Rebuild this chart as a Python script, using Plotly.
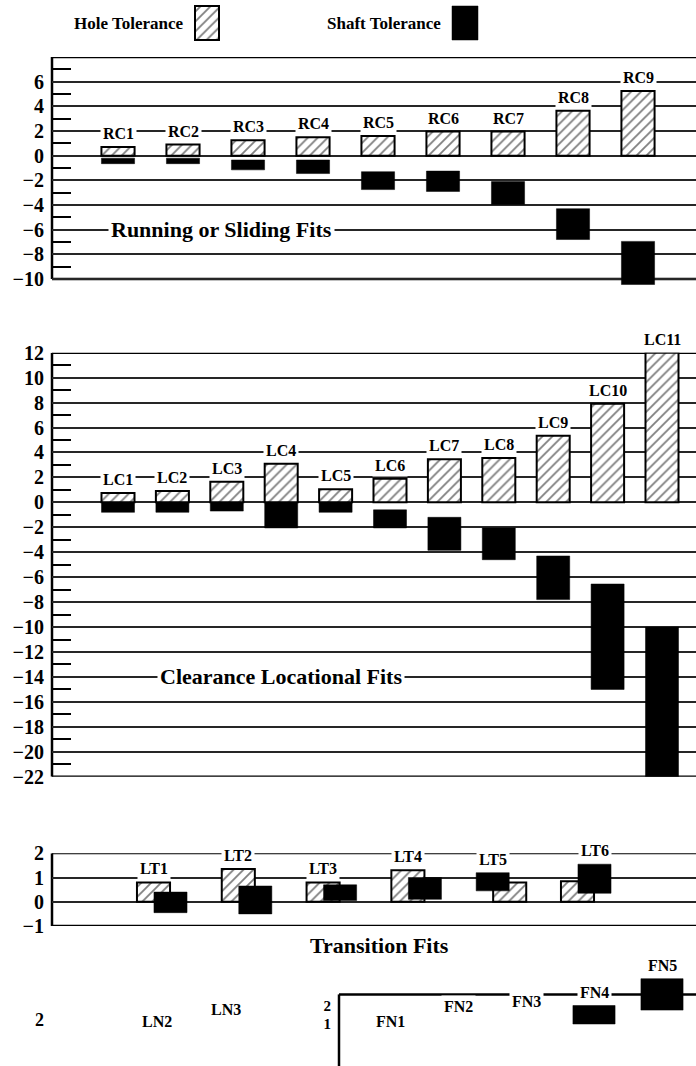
import plotly.graph_objects as go

W, H = 696, 1066

# ---- Running or sliding fits (RC) ----
rc_fits = ["RC1", "RC2", "RC3", "RC4", "RC5", "RC6", "RC7", "RC8", "RC9"]
rc_hole = [0.7, 0.9, 1.25, 1.5, 1.6, 1.95, 1.95, 3.65, 5.25]
rc_shaft_hi = [-0.2, -0.2, -0.35, -0.35, -1.3, -1.25, -2.1, -4.3, -6.95]
rc_shaft_lo = [-0.65, -0.65, -1.15, -1.45, -2.75, -2.9, -3.95, -6.8, -10.45]

# ---- Clearance locational fits (LC) ----
lc_fits = ["LC1", "LC2", "LC3", "LC4", "LC5", "LC6", "LC7", "LC8", "LC9", "LC10", "LC11"]
lc_hole = [0.75, 0.9, 1.65, 3.1, 1.05, 1.9, 3.45, 3.55, 5.35, 7.9, 12.0]
lc_shaft_hi = [0.0, 0.0, 0.0, 0.0, 0.0, -0.6, -1.2, -2.05, -4.3, -6.55, -10.0]
lc_shaft_lo = [-0.8, -0.8, -0.7, -2.05, -0.8, -2.05, -3.85, -4.6, -7.8, -15.0, -22.0]

# ---- Transition fits (LT) ----
lt_fits = ["LT1", "LT2", "LT3", "LT4", "LT5", "LT6"]
lt_hole = [0.8, 1.35, 0.8, 1.3, 0.8, 0.85]
lt_shaft_hi = [0.4, 0.65, 0.7, 1.0, 1.2, 1.55]
lt_shaft_lo = [-0.45, -0.5, 0.05, 0.1, 0.45, 0.35]

# ---- Force / shrink fits (FN), only the top of this panel is shown ----
fn_fits = ["FN1", "FN2", "FN3", "FN4", "FN5"]
fn_shaft_hi = [None, None, None, 2.0, 3.45]
fn_shaft_lo = [None, None, None, 1.0, 1.75]

# Tick labels
rc_ticks = [-10, -8, -6, -4, -2, 0, 2, 4, 6]
lc_ticks = [-22, -20, -18, -16, -14, -12, -10, -8, -6, -4, -2, 0, 2, 4, 6, 8, 10, 12]
lt_ticks = [-1, 0, 1, 2]
fn_ticks = [1, 2]

# ---- styling ----
SERIF = "Liberation Serif"
INK = "black"
GRID = "#262626"
LABEL_FONT = dict(family=SERIF, size=16, color=INK, weight="bold")
TITLE_FONT = dict(family=SERIF, size=22, color=INK, weight="bold")
TICK_FONT = dict(family=SERIF, size=20, color=INK, weight="bold")
CAPTION_FONT = dict(family=SERIF, size=17, color=INK, weight="bold")

# side of each LT pair on which the hole bar sits (-1 left, +1 right)
lt_hole_side = [-1, -1, -1, -1, 1, -1]


def ydom(top_px, bot_px):
    return [1 - bot_px / H, 1 - top_px / H]


def xdom(left_px, right_px):
    return [left_px / W, right_px / W]


HATCH = dict(
    color="white",
    line=dict(color=INK, width=2),
    pattern=dict(shape="/", fgcolor=INK, bgcolor="white", size=7, solidity=0.26),
)
SOLID = dict(color=INK, line=dict(color=INK, width=0.5))

fig = go.Figure()


def hole_bars(fits, hole, xa, ya, width, offset):
    fig.add_trace(go.Bar(
        x=fits, y=hole, base=0, width=width, offset=offset,
        marker=HATCH, xaxis=xa, yaxis=ya, showlegend=False, hoverinfo="skip",
    ))


def shaft_bars(fits, hi, lo, xa, ya, width, offset):
    span = [None if h is None else l - h for h, l in zip(hi, lo)]
    fig.add_trace(go.Bar(
        x=fits, y=span, base=hi, width=width, offset=offset,
        marker=SOLID, xaxis=xa, yaxis=ya, showlegend=False, hoverinfo="skip",
    ))


def fit_labels(fits, tops, xa, ya, xshifts=None):
    for i, (name, top) in enumerate(zip(fits, tops)):
        fig.add_annotation(
            x=name, y=top, xref=xa, yref=ya, text=name, showarrow=False,
            xanchor="center", yanchor="bottom", yshift=2,
            xshift=(xshifts[i] if xshifts else 0),
            bgcolor="white", borderpad=2, font=LABEL_FONT,
        )


def text_at(text, cx_px, cy_px, font, xanchor="center"):
    fig.add_annotation(x=cx_px / W, xref="paper", y=1 - cy_px / H, yref="paper",
                       xanchor=xanchor, yanchor="middle", text=text,
                       showarrow=False, font=font)


# RC panel
w_rc = 0.51
hole_bars(rc_fits, rc_hole, "x", "y", w_rc, -w_rc / 2)
shaft_bars(rc_fits, rc_shaft_hi, rc_shaft_lo, "x", "y", w_rc, -w_rc / 2)
fit_labels(rc_fits, [max(h, s) for h, s in zip(rc_hole, rc_shaft_hi)], "x", "y")

# LC panel
w_lc = 0.607
hole_bars(lc_fits, lc_hole, "x2", "y2", w_lc, -w_lc / 2)
shaft_bars(lc_fits, lc_shaft_hi, lc_shaft_lo, "x2", "y2", w_lc, -w_lc / 2)
fit_labels(lc_fits, [max(h, s) for h, s in zip(lc_hole, lc_shaft_hi)], "x2", "y2")

# LT panel: hole and shaft bars side by side, partly overlapping
w_lt = 0.39
lt_step_px = 84.8
half_px = 8.5
d = half_px / lt_step_px
lt_hole_off = [s * d - w_lt / 2 for s in lt_hole_side]
lt_shaft_off = [-s * d - w_lt / 2 for s in lt_hole_side]
hole_bars(lt_fits, lt_hole, "x3", "y3", w_lt, lt_hole_off)
shaft_bars(lt_fits, lt_shaft_hi, lt_shaft_lo, "x3", "y3", w_lt, lt_shaft_off)
lt_tops, lt_xs = [], []
for h, s, side in zip(lt_hole, lt_shaft_hi, lt_hole_side):
    lt_tops.append(max(h, s))
    lt_xs.append(side * half_px if h >= s else -side * half_px)
fit_labels(lt_fits, lt_tops, "x3", "y3", lt_xs)

# FN panel
w_fn = 0.62
shaft_bars(fn_fits, fn_shaft_hi, fn_shaft_lo, "x4", "y4", w_fn, -w_fn / 2)
fn_label_mid = [1.16, 1.97, 2.24]
for name, ymid in zip(fn_fits[:3], fn_label_mid):
    fig.add_annotation(x=name, y=ymid, xref="x4", yref="y4", text=name,
                       showarrow=False, xanchor="center", yanchor="middle",
                       bgcolor="white", borderpad=2, font=LABEL_FONT)
fit_labels(fn_fits[3:], [h for h in fn_shaft_hi[3:]], "x4", "y4")

# legend swatches
fig.add_trace(go.Bar(x=[0], y=[1], base=0, width=1, marker=HATCH,
                     xaxis="x5", yaxis="y5", showlegend=False, hoverinfo="skip"))
fig.add_trace(go.Bar(x=[0], y=[1], base=0, width=1, marker=SOLID,
                     xaxis="x6", yaxis="y6", showlegend=False, hoverinfo="skip"))


def y_axis(domain, rng, tickvals, anchor, minor=None, grid=True, font=TICK_FONT):
    ax = dict(
        domain=domain, range=rng, anchor=anchor, tickvals=tickvals,
        ticks="", showgrid=grid, gridcolor=GRID, gridwidth=1.6,
        zeroline=False, showline=False, tickfont=font,
        ticklabelstandoff=7, fixedrange=True, automargin=False,
    )
    if minor:
        ax["minor"] = dict(tickvals=minor, ticks="inside", ticklen=19,
                           tickwidth=1.5, tickcolor=INK, showgrid=False)
    return ax


def x_axis(domain, rng, cats, anchor):
    return dict(domain=domain, range=rng, anchor=anchor, type="category",
                categoryorder="array", categoryarray=cats, visible=False,
                fixedrange=True, automargin=False)


def swatch_axes(domain, rng, anchor):
    return dict(domain=domain, range=rng, anchor=anchor, visible=False,
                fixedrange=True, automargin=False)


# pixel layout of each panel
rc_scale = (279 - 57) / 18.0
rc_bottom_px = 57 + 18.5 * rc_scale
fn_scale = 18.5

fig.update_layout(
    width=W, height=H, margin=dict(l=0, r=0, t=0, b=0, autoexpand=False),
    paper_bgcolor="white", plot_bgcolor="white", barmode="overlay",
    xaxis=x_axis(xdom(52, W), [(52 - 118) / 65, (W - 118) / 65], rc_fits, "y"),
    yaxis=y_axis(ydom(57, rc_bottom_px), [-10.5, 8], rc_ticks, "x",
                 minor=list(range(-9, 8, 2))),
    xaxis2=x_axis(xdom(52, W), [(52 - 118) / 54.4, (W - 118) / 54.4], lc_fits, "y2"),
    yaxis2=y_axis(ydom(352.7, 776.7), [-22, 12], lc_ticks, "x2",
                  minor=list(range(-21, 12, 2))),
    xaxis3=x_axis(xdom(52, W), [(52 - 162) / lt_step_px, (W - 162) / lt_step_px],
                  lt_fits, "y3"),
    yaxis3=y_axis(ydom(853.3, 926), [-1, 2], lt_ticks, "x3"),
    xaxis4=x_axis(xdom(339, W), [(339 - 390) / 68, (W - 390) / 68], fn_fits, "y4"),
    yaxis4=y_axis(ydom(970, H), [2 - 60.5 / fn_scale, 2 + 35.5 / fn_scale],
                  fn_ticks, "x4", grid=False, font=dict(TICK_FONT, size=15)),
    xaxis5=swatch_axes(xdom(193, 221), [-0.5833, 0.5833], "y5"),
    yaxis5=swatch_axes(ydom(4, 42), [-0.0588, 1.0588], "x5"),
    xaxis6=swatch_axes(xdom(450, 480), [-0.577, 0.577], "y6"),
    yaxis6=swatch_axes(ydom(4, 42), [-0.0588, 1.0588], "x6"),
)


def frame_line(xa, ya, x0, x1, y0, y1, width):
    fig.add_shape(type="line", xref=f"{xa} domain", yref=ya, x0=x0, x1=x1,
                  y0=y0, y1=y1, line=dict(color=INK, width=width), layer="below")


# panel frames
for xa, ya, top, bot in [("x", "y", 8, -10), ("x2", "y2", 12, -22)]:
    frame_line(xa, ya, 0, 1, top, top, 2.5)
    frame_line(xa, ya, 0, 1, bot, bot, 2.5)
    frame_line(xa, ya, 0, 0, bot, top, 2.5)
frame_line("x3", "y3", 0, 1, 2, 2, 1.8)
frame_line("x3", "y3", 0, 1, -1, -1, 2.5)
frame_line("x3", "y3", 0, 0, -1, 2, 2.5)
fn_top = 2.6
frame_line("x4", "y4", 0, 1, fn_top, fn_top, 2.5)
frame_line("x4", "y4", 0, 0, 2 - 60.5 / fn_scale, fn_top, 2.5)

# panel titles
fig.add_annotation(x=221 / W, xref="paper", xanchor="center", y=-6, yref="y",
                   yanchor="middle", text="Running or Sliding Fits",
                   showarrow=False, bgcolor="white", borderpad=2, font=TITLE_FONT)
fig.add_annotation(x=281 / W, xref="paper", xanchor="center", y=-14, yref="y2",
                   yanchor="middle", text="Clearance Locational Fits",
                   showarrow=False, bgcolor="white", borderpad=2, font=TITLE_FONT)
text_at("Transition Fits", 379, 945, TITLE_FONT)

# legend captions
text_at("Hole Tolerance", 186, 24, CAPTION_FONT, xanchor="right")
text_at("Shaft Tolerance", 443, 24, CAPTION_FONT, xanchor="right")

# labels of the locational interference panel below
text_at("2", 39, 1020, dict(TICK_FONT, size=18))
text_at("LN2", 157, 1021, LABEL_FONT)
text_at("LN3", 226, 1009, LABEL_FONT)

fig.write_html("out.html")
